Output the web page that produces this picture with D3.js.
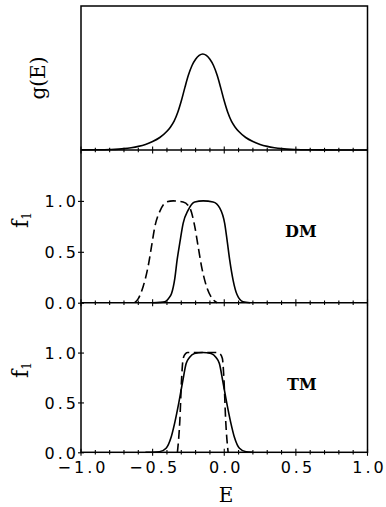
<!DOCTYPE html>
<html>
<head>
<meta charset="utf-8">
<script src="https://cdn.jsdelivr.net/npm/d3@7"></script>
<style>
  html, body { margin: 0; padding: 0; background: #fff; }
  svg { display: block; }
</style>
</head>
<body>
<svg id="chart" width="386" height="507"></svg>
<script>
// ---- data ----
const xTicks = [-1.0, -0.5, 0.0, 0.5, 1.0];
const yTicks = [0.0, 0.5, 1.0];

// top panel: g(E)
const gE = [-1.0,-0.9,-0.8,-0.7,-0.65,-0.6,-0.55,-0.5,-0.45,-0.4,-0.375,-0.35,-0.325,-0.3,-0.275,-0.25,-0.225,-0.2,-0.175,-0.15,-0.125,-0.1,-0.075,-0.05,-0.025,0.0,0.025,0.05,0.075,0.1,0.15,0.2,0.25,0.3,0.35,0.4,0.5,0.6,0.7,0.8,0.9,1.0];
const gVal = [0.001,0.002,0.005,0.014,0.024,0.038,0.058,0.088,0.13,0.195,0.24,0.30,0.39,0.51,0.65,0.78,0.88,0.945,0.985,1.0,0.985,0.945,0.88,0.78,0.65,0.51,0.39,0.30,0.24,0.195,0.13,0.088,0.058,0.038,0.024,0.014,0.005,0.002,0.001,0.0005,0,0];

// middle panel: DM
const dmSolidE = [-0.50,-0.45,-0.415,-0.39,-0.368,-0.345,-0.329,-0.310,-0.287,-0.252,-0.206,-0.147,-0.078,-0.031,0.003,0.022,0.038,0.062,0.089,0.131,0.18];
const dmSolidF = [0.0,0.003,0.01,0.04,0.09,0.24,0.42,0.59,0.78,0.91,0.99,1.0,0.99,0.93,0.78,0.59,0.42,0.22,0.08,0.01,0.0];
const dmDashE = [-0.625,-0.600,-0.566,-0.531,-0.508,-0.484,-0.449,-0.403,-0.357,-0.287,-0.240,-0.206,-0.182,-0.159,-0.124,-0.078,-0.05];
const dmDashF = [0.0,0.04,0.16,0.36,0.55,0.75,0.90,0.99,1.0,0.99,0.93,0.75,0.55,0.36,0.16,0.03,0.0];

// bottom panel: TM
const tmSolidE = [-0.55,-0.50,-0.452,-0.406,-0.371,-0.345,-0.318,-0.289,-0.266,-0.243,-0.208,-0.150,-0.092,-0.057,-0.034,-0.011,0.018,0.045,0.071,0.106,0.152,0.20];
const tmSolidF = [0.0,0.0,0.005,0.04,0.15,0.30,0.49,0.72,0.89,0.95,0.99,1.0,0.99,0.95,0.89,0.72,0.49,0.30,0.15,0.04,0.005,0.0];
const tmDashE = [-0.327,-0.310,-0.298,-0.287,-0.270,-0.255,-0.045,-0.030,-0.013,-0.002,0.010,0.027];
const tmDashF = [0.0,0.32,0.73,0.94,0.99,1.0,1.0,0.99,0.94,0.73,0.32,0.0];

// ---- layout ----
const L = 81, R = 367.5;
const panels = [
  { top: 6, bottom: 150 },
  { top: 150, bottom: 302.7 },
  { top: 302.7, bottom: 452.3 }
];

const svg = d3.select("#chart");
svg.append("rect").attr("width", 386).attr("height", 507).attr("fill", "#fff");

const x = d3.scaleLinear().domain([-1, 1]).range([L, R]);
const ys = panels.map(p => d3.scaleLinear().domain([0, 1.5]).range([p.bottom, p.top]));

const fmt = d3.format(".1f");
const numFont = "'DejaVu Sans', sans-serif";
const serif = "'DejaVu Serif', serif";
const LS = 3;
const NFS = 16;

// minor/major ticks along each panel's bottom line (crossing the line)
const minor = d3.range(-10, 11).map(i => i / 10);
const isMajor = d => Math.abs(d * 2 - Math.round(d * 2)) < 1e-6;
panels.forEach(p => {
  svg.append("g").selectAll("line").data(minor).join("line")
    .attr("x1", d => x(d)).attr("x2", d => x(d))
    .attr("y1", d => p.bottom - (isMajor(d) ? 3.5 : 2.2))
    .attr("y2", d => p.bottom + (isMajor(d) ? 3.5 : 2.2))
    .attr("stroke", "#000").attr("stroke-width", 1.1);
});

// y axes for panels 2 & 3
[1, 2].forEach(i => {
  const ax = d3.axisLeft(ys[i]).tickValues(yTicks).tickFormat(fmt).tickSizeInner(3).tickSizeOuter(0).tickPadding(1);
  const g = svg.append("g").attr("transform", `translate(${L},0)`).call(ax);
  g.select(".domain").remove();
  g.selectAll(".tick line").attr("x2", -3).attr("x1", 3).attr("stroke", "#000").attr("stroke-width", 1.1);
  g.selectAll(".tick text")
    .attr("x", 0).attr("dx", LS - 5).attr("dy", "0.36em")
    .attr("font-family", numFont).attr("font-size", NFS)
    .style("letter-spacing", LS + "px").attr("fill", "#000");
});

// x axis labels on the bottom panel
{
  const ax = d3.axisBottom(x).tickValues(xTicks).tickFormat(fmt).tickSize(0).tickPadding(0);
  const g = svg.append("g").attr("transform", `translate(0,${panels[2].bottom})`).call(ax);
  g.select(".domain").remove();
  g.selectAll(".tick text")
    .attr("y", 20.5).attr("dy", 0).attr("dx", LS / 2)
    .attr("font-family", numFont).attr("font-size", NFS)
    .style("letter-spacing", LS + "px").attr("fill", "#000");
}

// frame and panel dividers
svg.append("rect").attr("x", L).attr("y", panels[0].top)
  .attr("width", R - L).attr("height", panels[2].bottom - panels[0].top)
  .attr("fill", "none").attr("stroke", "#000").attr("stroke-width", 1.5);
[panels[0].bottom, panels[1].bottom].forEach(yy => {
  svg.append("line").attr("x1", L).attr("x2", R).attr("y1", yy).attr("y2", yy)
    .attr("stroke", "#000").attr("stroke-width", 1.5);
});

// curves
function drawCurve(es, fs, yScale, dashed) {
  const pts = es.map((e, i) => [e, fs[i]]);
  const line = d3.line().x(d => x(d[0])).y(d => yScale(d[1])).curve(d3.curveMonotoneX);
  svg.append("path").attr("d", line(pts))
    .attr("fill", "none").attr("stroke", "#000").attr("stroke-width", 1.6)
    .attr("stroke-dasharray", dashed ? "9,4.5" : null);
}
drawCurve(gE, gVal, ys[0], false);
drawCurve(dmSolidE, dmSolidF, ys[1], false);
drawCurve(dmDashE, dmDashF, ys[1], true);
drawCurve(tmSolidE, tmSolidF, ys[2], false);
drawCurve(tmDashE, tmDashF, ys[2], true);

// axis titles
svg.append("text").attr("transform", "translate(45,78) rotate(-90)")
  .attr("text-anchor", "middle").attr("font-family", serif).attr("font-size", 20)
  .attr("fill", "#000").text("g(E)");

[[1, 220], [2, 370]].forEach(([i, cy]) => {
  const t = svg.append("text").attr("transform", `translate(28,${cy}) rotate(-90)`)
    .attr("text-anchor", "middle").attr("font-family", serif).attr("font-size", 22)
    .attr("fill", "#000");
  t.append("tspan").text("f");
  t.append("tspan").attr("font-size", 12).attr("dy", 3).text("1");
});

svg.append("text").attr("x", 226).attr("y", 502).attr("text-anchor", "middle")
  .attr("font-family", serif).attr("font-size", 20).attr("fill", "#000").text("E");

svg.append("text").attr("x", 285).attr("y", 236.5)
  .attr("font-family", serif).attr("font-size", 16).attr("font-weight", "bold")
  .attr("fill", "#000").text("DM");
svg.append("text").attr("x", 287).attr("y", 390)
  .attr("font-family", serif).attr("font-size", 16).attr("font-weight", "bold")
  .attr("fill", "#000").text("TM");
</script>
</body>
</html>
